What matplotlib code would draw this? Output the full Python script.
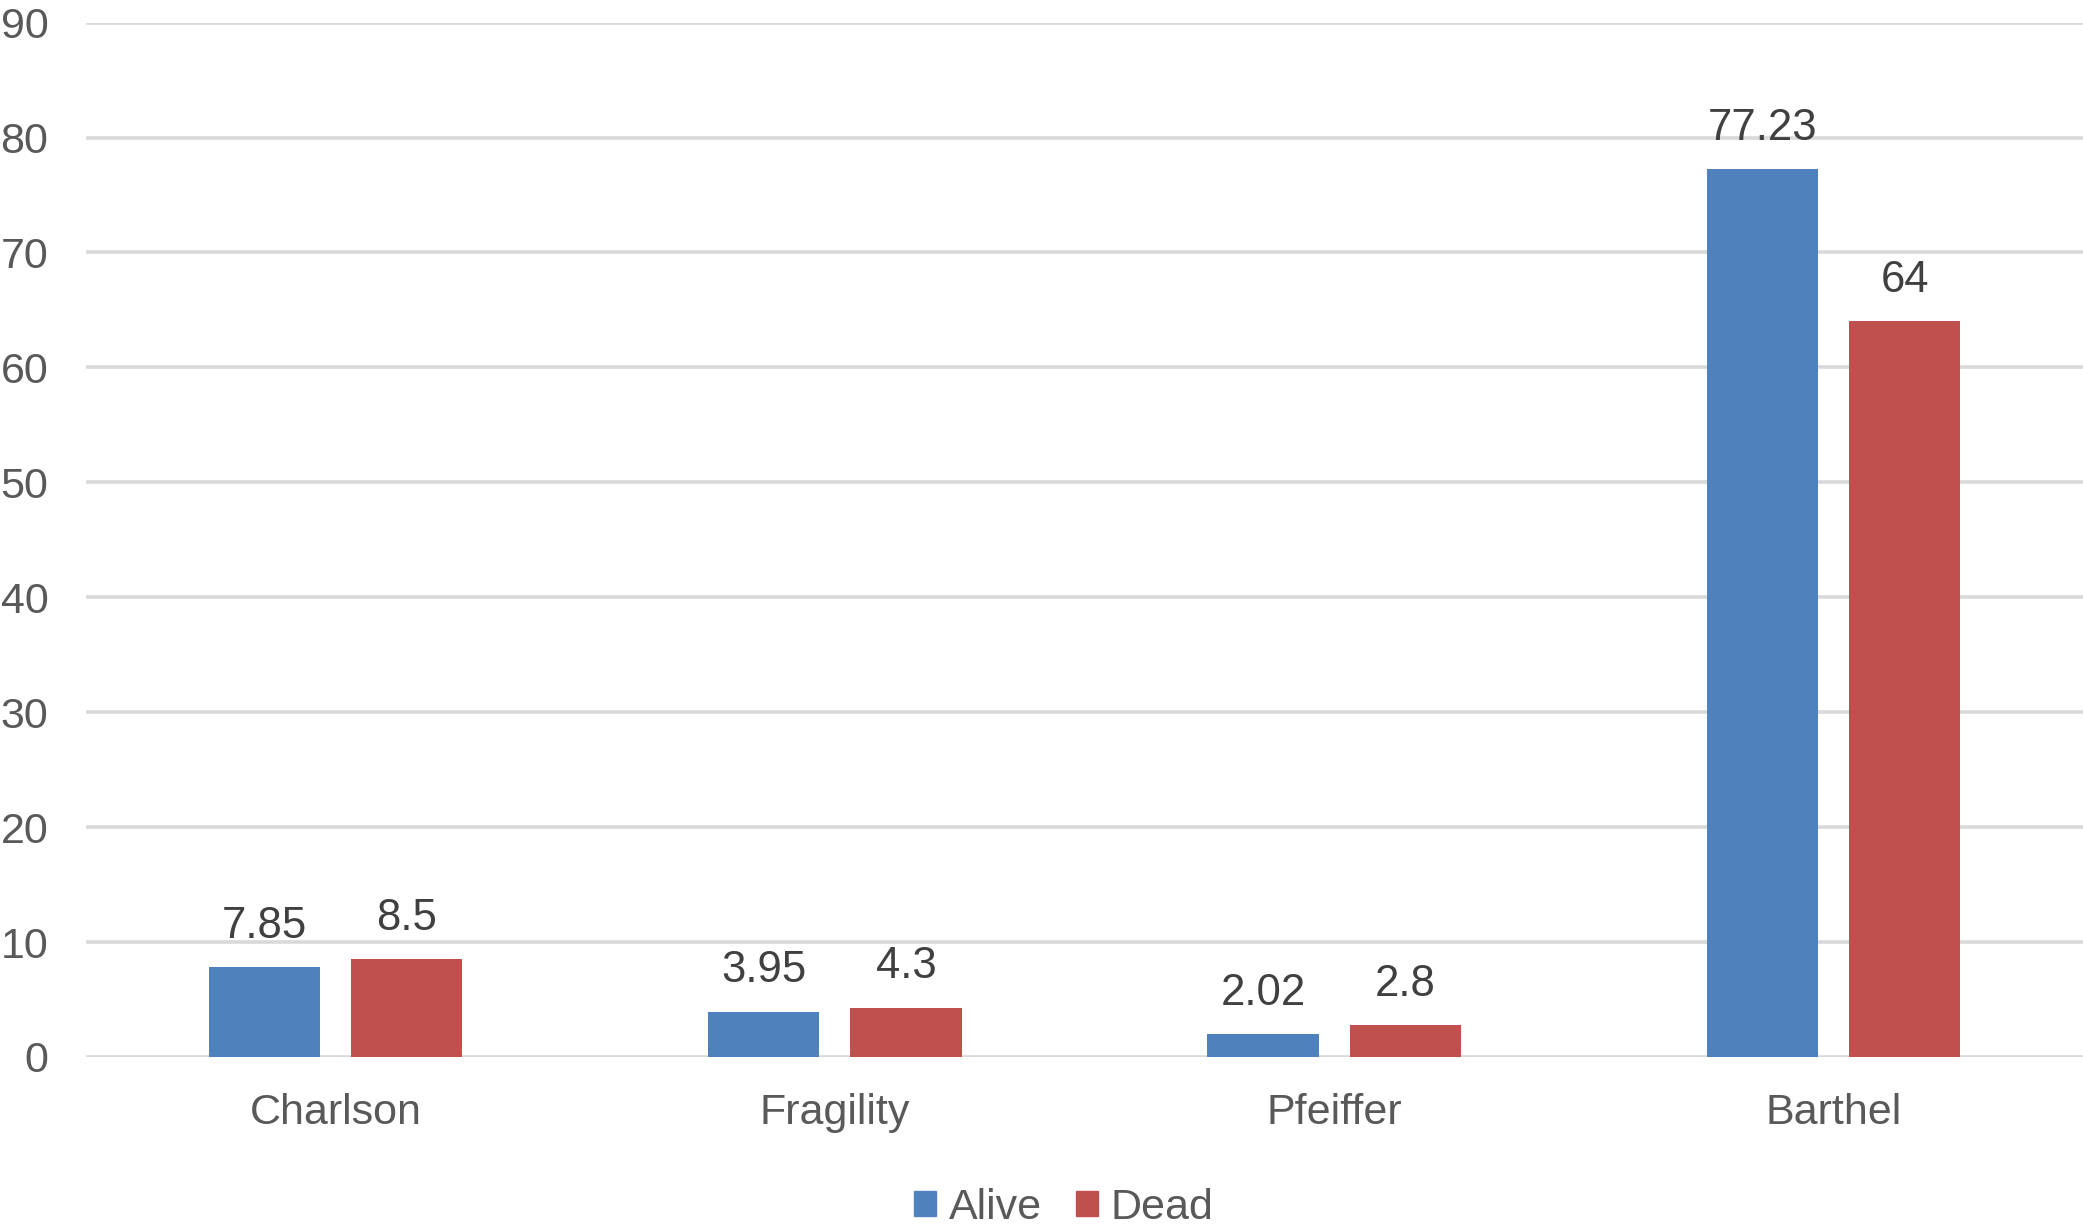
import matplotlib
matplotlib.use("Agg")
import matplotlib.pyplot as plt
import numpy as np
from matplotlib.patches import Patch

categories = ["Charlson", "Fragility", "Pfeiffer", "Barthel"]
alive = [7.85, 3.95, 2.02, 77.23]
dead = [8.5, 4.3, 2.8, 64]
alive_labels = ["7.85", "3.95", "2.02", "77.23"]
dead_labels = ["8.5", "4.3", "2.8", "64"]
series_names = ["Alive", "Dead"]
yticks = [0, 10, 20, 30, 40, 50, 60, 70, 80, 90]

plt.rcParams['font.family'] = ['Liberation Sans', 'DejaVu Sans']

W, H, DPI = 2083, 1230, 100
fig = plt.figure(figsize=(W / DPI, H / DPI), dpi=DPI)
ax = fig.add_axes([86 / W, 173 / H, 1 - 86 / W, (1057 - 22.6) / H])

blue = "#4F81BD"
red = "#C0504D"
x = np.arange(len(categories))
bw = 0.223
off = 0.1425
b1 = ax.bar(x - off, alive, bw, color=blue, zorder=3)
b2 = ax.bar(x + off, dead, bw, color=red, zorder=3)

for rects, labs in ((b1, alive_labels), (b2, dead_labels)):
    for r, lab in zip(rects, labs):
        ax.annotate(lab, (r.get_x() + r.get_width() / 2, r.get_height()),
                    xytext=(0, 21), textcoords="offset points",
                    ha="center", va="baseline", fontsize=31.5, color="#404040")

ax.set_xlim(-0.5, 3.5)
ax.set_ylim(0, 90)
ax.set_yticks(yticks)
ax.set_yticklabels([str(t) for t in yticks])
ax.set_xticks(x)
ax.set_xticklabels(categories)
ax.tick_params(axis="both", length=0, labelsize=31, colors="#595959")
ax.tick_params(axis="y", pad=27)
ax.tick_params(axis="x", pad=26)
ax.grid(axis="y", color="#D9D9D9", linewidth=2.6, zorder=0)
for s in ax.spines.values():
    s.set_visible(False)

handles = [Patch(color=blue), Patch(color=red)]
fig.legend(handles, series_names, loc="center", bbox_to_anchor=(1064 / W, 1 - 1208 / H),
           ncol=2, frameon=False, fontsize=31, labelcolor="#595959",
           handlelength=0.5, handleheight=0.5, handletextpad=0.3, columnspacing=0.8)

fig.savefig("out.png", dpi=DPI)
